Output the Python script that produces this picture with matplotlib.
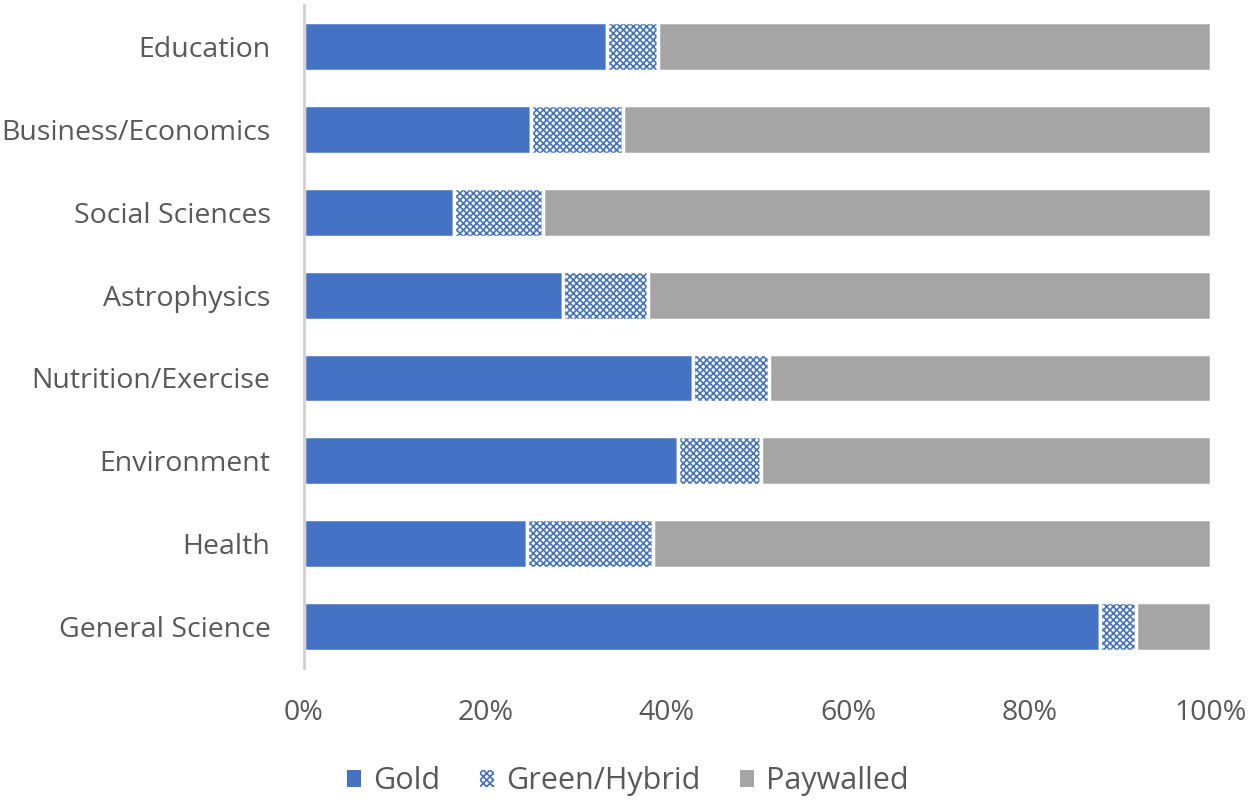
import matplotlib.pyplot as plt
from matplotlib.patches import Patch
from matplotlib.ticker import PercentFormatter

plt.rcParams['font.family'] = ['Open Sans', 'DejaVu Sans']
plt.rcParams['hatch.linewidth'] = 1.2

categories = ['Education', 'Business/Economics', 'Social Sciences', 'Astrophysics',
              'Nutrition/Exercise', 'Environment', 'Health', 'General Science']
gold = [33.4, 25.0, 16.5, 28.6, 42.9, 41.2, 24.6, 87.8]
green = [5.6, 10.2, 9.9, 9.3, 8.4, 9.2, 13.9, 4.0]
paywalled = [100 - g - h for g, h in zip(gold, green)]

blue = '#4472c4'
grey = '#a5a5a5'
txt = '#595959'

fig = plt.figure(figsize=(12.56, 8.06), dpi=100)
ax = fig.add_axes([0.242, 0.171, 0.722, 0.823])

y = list(range(len(categories)))
h = 0.59
left2 = gold
left3 = [g + x for g, x in zip(gold, green)]

ax.barh(y, gold, height=h, color=blue, edgecolor='white', linewidth=2.5)
# hatched green/hybrid segment, then white outline on top
ax.barh(y, green, left=left2, height=h, color='white', edgecolor=blue,
        hatch='xxxxx', linewidth=0)
ax.barh(y, green, left=left2, height=h, fill=False, edgecolor='white', linewidth=2.5)
ax.barh(y, paywalled, left=left3, height=h, color=grey, edgecolor='white', linewidth=2.5)

ax.set_xlim(0, 100)
ax.set_ylim(len(categories) - 0.5, -0.5)
ax.set_yticks(y)
ax.set_yticklabels(categories, fontsize=20.5, color=txt)
ax.set_xticks([0, 20, 40, 60, 80, 100])
ax.xaxis.set_major_formatter(PercentFormatter(decimals=0))
ax.tick_params(axis='x', labelsize=20.5, labelcolor=txt, length=0, pad=22)
ax.tick_params(axis='y', length=0, pad=24)

for s in ['top', 'right', 'bottom']:
    ax.spines[s].set_visible(False)
ax.spines['left'].set_color('#d0d0d0')
ax.spines['left'].set_linewidth(2)

handles = [Patch(facecolor=blue, edgecolor='none'),
           Patch(facecolor='white', edgecolor=blue, hatch='xxxxx', linewidth=0),
           Patch(facecolor=grey, edgecolor='none')]
fig.legend(handles, ['Gold', 'Green/Hybrid', 'Paywalled'], loc='lower center',
           ncol=3, frameon=False, fontsize=22, labelcolor=txt,
           handlelength=0.45, handleheight=0.45, handletextpad=0.4,
           columnspacing=1.3, bbox_to_anchor=(0.5, -0.022))

fig.savefig('out.png', dpi=100, facecolor='white')
